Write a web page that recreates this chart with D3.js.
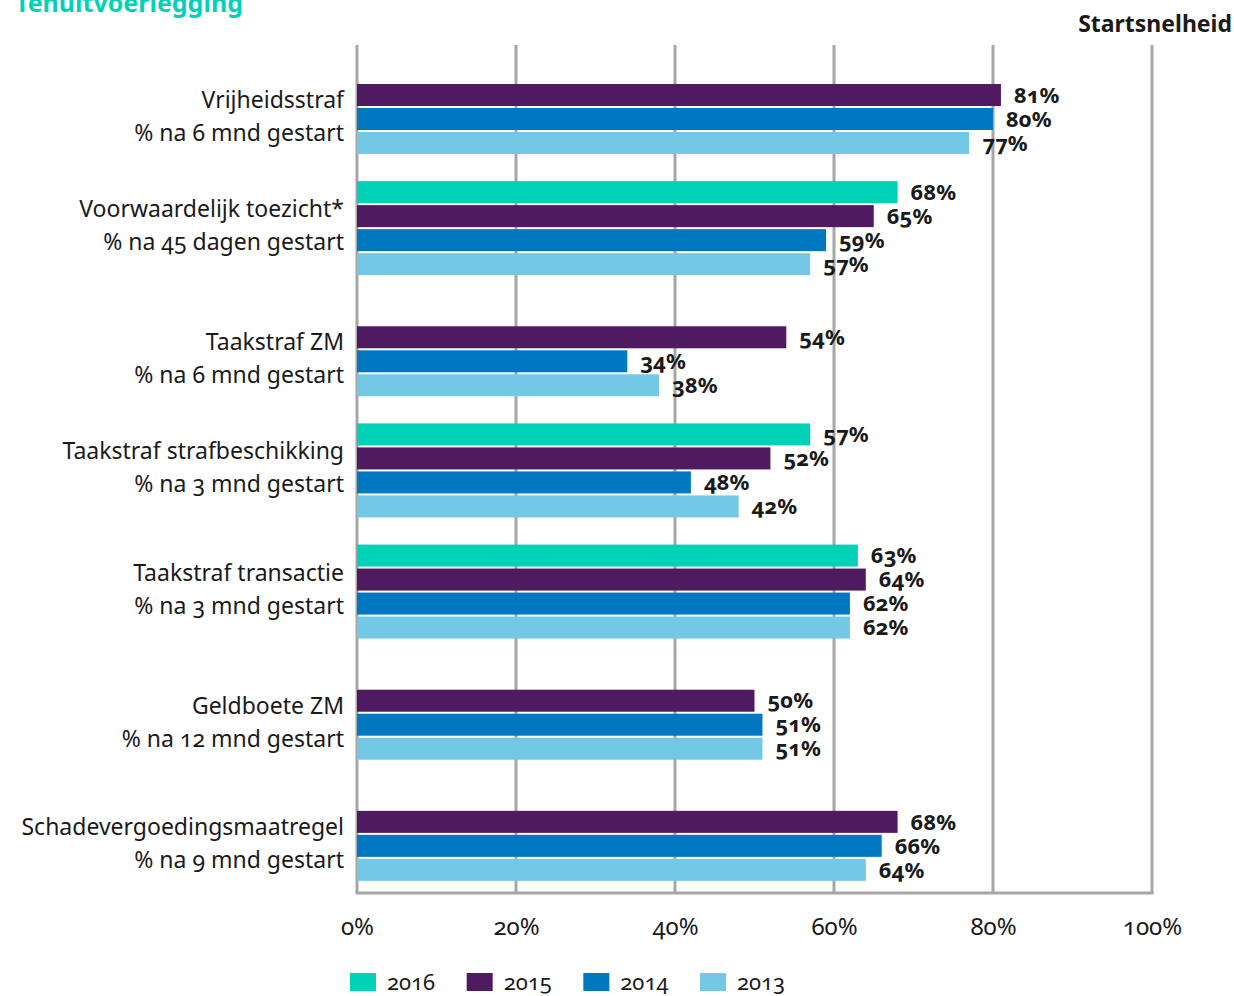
<!DOCTYPE html>
<html>
<head>
<meta charset="utf-8">
<script src="https://cdn.jsdelivr.net/npm/d3@7"></script>
<style>
  html, body { margin: 0; padding: 0; background: #fff; }
  svg { display: block; font-family: "Noto Sans", sans-serif; font-variant-numeric: oldstyle-nums; }
</style>
</head>
<body>
<svg id="chart" width="1234" height="996"></svg>
<script>
// categories, two text lines each
const categories = ['vrij', 'vt', 'tzm', 'tsb', 'ttr', 'gzm', 'sch'];
const titleLines = [
  ['Vrijheidsstraf', '% na 6 mnd gestart'],
  ['Voorwaardelijk toezicht*', '% na 45 dagen gestart'],
  ['Taakstraf ZM', '% na 6 mnd gestart'],
  ['Taakstraf strafbeschikking', '% na 3 mnd gestart'],
  ['Taakstraf transactie', '% na 3 mnd gestart'],
  ['Geldboete ZM', '% na 12 mnd gestart'],
  ['Schadevergoedingsmaatregel', '% na 9 mnd gestart']
];
const years = ['2016', '2015', '2014', '2013'];

// bar values per year (null = no bar)
const v2016 = [null, 68, null, 57, 63, null, null];
const v2015 = [81, 65, 54, 52, 64, 50, 68];
const v2014 = [80, 59, 34, 42, 62, 51, 66];
const v2013 = [77, 57, 38, 48, 62, 51, 64];

// labels as printed in the source (strafbeschikking 2014/2013 are printed swapped)
const p2016 = [null, '68%', null, '57%', '63%', null, null];
const p2015 = ['81%', '65%', '54%', '52%', '64%', '50%', '68%'];
const p2014 = ['80%', '59%', '34%', '48%', '62%', '51%', '66%'];
const p2013 = ['77%', '57%', '38%', '42%', '62%', '51%', '64%'];

const xTicks = [0, 20, 40, 60, 80, 100];

const values = { '2016': v2016, '2015': v2015, '2014': v2014, '2013': v2013 };
const printed = { '2016': p2016, '2015': p2015, '2014': p2014, '2013': p2013 };
const colors = d3.scaleOrdinal()
  .domain(years)
  .range(['#00d2b8', '#4f1a60', '#0078c1', '#72c8e5']);

const svg = d3.select('#chart');
const plotTop = 45, plotBottom = 893, plotLeft = 357, plotRight = 1152;

const x = d3.scaleLinear().domain([0, 100]).range([plotLeft, plotRight]);
const y0 = d3.scaleBand().domain(categories).range([plotTop, plotBottom]);
const y1 = d3.scaleBand().domain(years).range([15, 111]);
const barH = y1.bandwidth() - 2;

// title + subtitle
svg.append('text')
  .attr('x', 15).attr('y', 12)
  .attr('fill', '#00d2b8')
  .attr('font-size', 25).attr('font-weight', 700)
  .text('Tenuitvoerlegging');

svg.append('text')
  .attr('x', 1232).attr('y', 32)
  .attr('text-anchor', 'end')
  .attr('fill', '#1a1a1a')
  .attr('font-size', 23).attr('font-weight', 700)
  .text('Startsnelheid');

// grid
const grid = svg.append('g').attr('stroke', '#a6a6a6').attr('stroke-width', 3);
grid.selectAll('line')
  .data(xTicks)
  .join('line')
  .attr('x1', d => x(d)).attr('x2', d => x(d))
  .attr('y1', plotTop).attr('y2', plotBottom);
grid.append('line')
  .attr('x1', x(0) - 1.5).attr('x2', x(100) + 1.5)
  .attr('y1', plotBottom).attr('y2', plotBottom);

// bars
const rows = [];
categories.forEach((c, i) => {
  years.forEach(yr => {
    const v = values[yr][i];
    if (v != null) rows.push({ cat: c, year: yr, value: v, label: printed[yr][i] });
  });
});

const barY = d => y0(d.cat) + y1(d.year);

svg.append('g')
  .selectAll('rect')
  .data(rows)
  .join('rect')
  .attr('x', x(0))
  .attr('y', barY)
  .attr('width', d => x(d.value) - x(0))
  .attr('height', barH)
  .attr('fill', d => colors(d.year));

svg.append('g')
  .attr('font-size', 22).attr('font-weight', 700).attr('fill', '#1a1a1a')
  .selectAll('text')
  .data(rows)
  .join('text')
  .attr('x', d => x(d.value) + 13)
  .attr('y', d => barY(d) + barH / 2)
  .attr('dy', '0.35em')
  .text(d => d.label);

// category labels, centred on the bars that exist
const catG = svg.append('g').attr('font-size', 23).attr('fill', '#1a1a1a').attr('text-anchor', 'end');
categories.forEach((c, i) => {
  const present = rows.filter(r => r.cat === c);
  const yTop = d3.min(present, barY);
  const yBot = d3.max(present, barY) + barH;
  const mid = (yTop + yBot) / 2;
  catG.append('text').attr('x', 344).attr('y', mid - 11).text(titleLines[i][0]);
  catG.append('text').attr('x', 344).attr('y', mid + 22).text(titleLines[i][1]);
});

// x axis labels
const axis = svg.append('g')
  .attr('transform', `translate(0,${plotBottom})`)
  .call(d3.axisBottom(x).tickValues(xTicks).tickFormat(d => d + '%').tickSize(0).tickPadding(25));
axis.select('.domain').remove();
axis.selectAll('text')
  .attr('font-size', 24)
  .attr('font-family', '"Noto Sans", sans-serif')
  .attr('fill', '#1a1a1a');

// legend
const lx = d3.scalePoint().domain(years).range([350, 700]);
const legend = svg.append('g').attr('font-size', 22).attr('fill', '#1a1a1a');
years.forEach(yr => {
  legend.append('rect')
    .attr('x', lx(yr)).attr('y', 973)
    .attr('width', 26).attr('height', 18)
    .attr('fill', colors(yr));
  legend.append('text')
    .attr('x', lx(yr) + 37).attr('y', 990)
    .text(yr);
});
</script>
</body>
</html>
